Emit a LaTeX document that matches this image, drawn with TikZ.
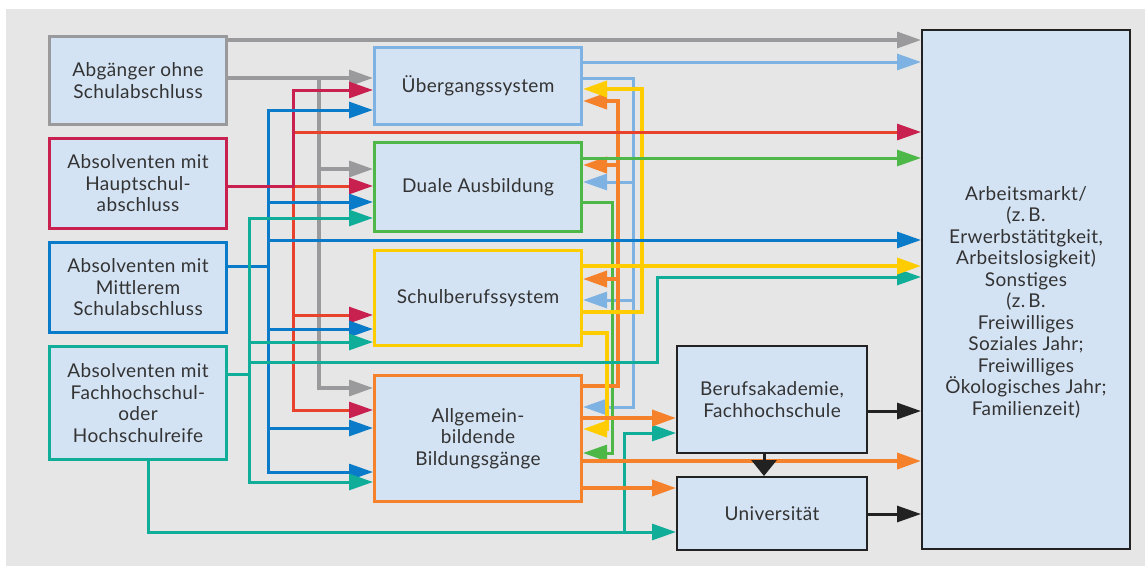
\documentclass[tikz,border=0pt]{standalone}
\usepackage{fontspec}
\setmainfont{Lato}[LetterSpace=2]
\usetikzlibrary{arrows.meta}
\definecolor{bgc}{HTML}{E6E6E6}
\definecolor{boxc}{HTML}{D4E3F4}
\definecolor{cgray}{HTML}{9A9A9C}
\definecolor{ccrim}{HTML}{C8204F}
\definecolor{cred}{HTML}{E8412C}
\definecolor{cblue}{HTML}{0A7BC8}
\definecolor{cteal}{HTML}{10AD98}
\definecolor{clb}{HTML}{7EB2E2}
\definecolor{cgreen}{HTML}{4DB848}
\definecolor{cyel}{HTML}{FFCC00}
\definecolor{corg}{HTML}{F5822A}
\definecolor{cblk}{HTML}{222222}
\definecolor{ctext}{HTML}{333333}
\begin{document}
\begin{tikzpicture}[x=1pt,y=-1pt,
  txt/.style={text=ctext, align=center, font=\fontsize{19}{21.5}\selectfont},
  box/.style={txt, draw, fill=boxc, line width=3pt, inner sep=0pt},
  bbox/.style={box, draw=cblk, line width=2pt},
  conn/.style={line width=3pt, -{Triangle[length=24pt,width=16pt]}},
  thick4/.style={line width=3.8pt},
  crimtip/.style={-{Triangle[length=24pt,width=16pt,color=ccrim]}},
  plain/.style={line width=3pt}
]
\useasboundingbox (0,0) rectangle (1145,566);
\fill[white] (0,0) rectangle (1145,566);
\fill[bgc] (6,9) rectangle (1145,566);

% source boxes
\node[box, draw=cgray, minimum width=177pt, minimum height=88pt] (abg) at (138,80.5) {Abgänger ohne\\Schulabschluss};
\node[box, draw=ccrim, minimum width=177pt, minimum height=90pt] (haupt) at (138,183.5) {Absolventen mit\\Hauptschul-\\abschluss};
\node[box, draw=cblue, minimum width=177pt, minimum height=90pt] (mittl) at (138,287.5) {Absolventen mit\\Mittlerem\\Schulabschluss};
\node[box, draw=cteal, minimum width=177pt, minimum height=113pt] (fach) at (138,403) {Absolventen mit\\Fachhochschul-\\oder\\Hochschulreife};

% middle boxes
\node[box, draw=clb, minimum width=207pt, minimum height=77pt] (ueber) at (478,86) {Übergangssystem};
\node[box, draw=cgreen, minimum width=207pt, minimum height=89pt] (duale) at (478,187) {Duale Ausbildung};
\node[box, draw=cyel, minimum width=207pt, minimum height=95pt] (schul) at (478,298) {Schulberufssystem};
\node[box, draw=corg, minimum width=207pt, minimum height=126pt] (allg) at (478,438.5) {Allgemein-\\bildende\\Bildungsgänge};

% right boxes
\node[bbox, minimum width=190pt, minimum height=107pt] (beruf) at (772,399.5) {Berufsakademie,\\Fachhochschule};
\node[bbox, minimum width=190pt, minimum height=73pt] (uni) at (772,513.5) {Universität};
\node[bbox, minimum width=208pt, minimum height=519pt] (arbeit) at (1026,289.5) {};
\node[txt] (arbtext) at (1026,302) {Arbeitsmarkt/\\(z.\,B.\\Erwerbstätitgkeit,\\Arbeitslosigkeit)\\Sonstiges\\(z.\,B.\\Freiwilliges\\Soziales Jahr;\\Freiwilliges\\Ökologisches Jahr;\\Familienzeit)};

% ---- middle bundle ----
\draw[conn, clb] (ueber.east|-0,78) -| (633,182) -- (duale.east|-0,182);
\draw[conn, clb] (ueber.east|-0,78) -| (633,300) -- (schul.east|-0,300);
\draw[conn, clb] (ueber.east|-0,78) -| (633,407) -- (allg.east|-0,407);
\draw[conn, cgreen] (duale.east|-0,202) -| (612,453) -- (allg.east|-0,453);
\draw[conn, corg, thick4] (allg.east|-0,386) -| (618,101) -- (ueber.east|-0,101);
\draw[conn, corg, thick4] (allg.east|-0,386) -| (618,165) -- (duale.east|-0,165);
\draw[conn, corg, thick4] (allg.east|-0,386) -| (618,279) -- (schul.east|-0,279);
\draw[conn, cyel, thick4] (schul.east|-0,312) -| (642,89) -- (ueber.east|-0,89);
\draw[conn, cyel, thick4] (schul.east|-0,333) -| (607,429) -- (allg.east|-0,429);

% ---- gray ----
\draw[conn, cgray, line width=3.3pt] (abg.east|-0,40) -- (arbeit.west|-0,40);
\draw[conn, cgray, line width=3.3pt] (abg.east|-0,78) -- (ueber.west|-0,78);
\draw[conn, cgray, line width=3.3pt] (abg.east|-0,78) -| (319,169) -- (duale.west|-0,169);
\draw[conn, cgray, line width=3.3pt] (abg.east|-0,78) -| (319,388) -- (allg.west|-0,388);

% ---- red / crimson ----
\draw[conn, cred, crimtip] (haupt.east|-0,186) -| (293,132) -- (arbeit.west|-0,132);
\draw[conn, cred, crimtip] (haupt.east|-0,186) -- (duale.west|-0,186);
\draw[conn, cred, crimtip] (haupt.east|-0,186) -| (293,315) -- (schul.west|-0,315);
\draw[conn, cred, crimtip] (haupt.east|-0,186) -| (293,410) -- (allg.west|-0,410);
\draw[conn, ccrim] (haupt.east|-0,186) -| (293,90) -- (ueber.west|-0,90);

% ---- blue ----
\draw[conn, cblue] (mittl.east|-0,266) -| (268,110) -- (ueber.west|-0,110);
\draw[conn, cblue] (mittl.east|-0,266) -| (268,202) -- (duale.west|-0,202);
\draw[conn, cblue] (mittl.east|-0,266) -| (268,240) -- (arbeit.west|-0,240);
\draw[conn, cblue] (mittl.east|-0,266) -| (268,329) -- (schul.west|-0,329);
\draw[conn, cblue] (mittl.east|-0,266) -| (268,428) -- (allg.west|-0,428);
\draw[conn, cblue] (mittl.east|-0,266) -| (268,472) -- (allg.west|-0,472);
\draw[plain, ccrim] (haupt.east|-0,186) -- (293,186);

% ---- teal ----
\draw[conn, cteal] (fach.east|-0,374) -| (249,218) -- (duale.west|-0,218);
\draw[conn, cteal] (fach.east|-0,374) -| (249,342) -- (schul.west|-0,342);
\draw[conn, cteal] (fach.east|-0,374) -| (249,482) -- (allg.west|-0,482);
\draw[conn, cteal] (fach.east|-0,374) -| (249,362) -- (657,362) |- (arbeit.west|-0,277);
\draw[conn, cteal] (fach.south-|148,0) |- (uni.west|-0,532);
\draw[conn, cteal] (fach.south-|148,0) |- (624,532) |- (beruf.west|-0,433);

% ---- middle boxes to Arbeitsmarkt ----
\draw[conn, clb] (ueber.east|-0,62) -- (arbeit.west|-0,62);
\draw[conn, cgreen] (duale.east|-0,158) -- (arbeit.west|-0,158);
\draw[conn, cyel, thick4] (schul.east|-0,266) -- (arbeit.west|-0,266);

% ---- orange right ----
\draw[conn, corg, thick4] (allg.east|-0,418) -- (beruf.west|-0,418);
\draw[conn, corg, thick4] (allg.east|-0,461) -- (arbeit.west|-0,461);
\draw[conn, corg, thick4] (allg.east|-0,488) -- (uni.west|-0,488);

% ---- black ----
\draw[conn, cblk] (beruf.east|-0,411) -- (arbeit.west|-0,411);
\draw[conn, cblk] (uni.east|-0,514) -- (arbeit.west|-0,514);
\draw[cblk, line width=3pt, -{Triangle[length=16pt,width=25pt]}] (beruf.south-|764,0) -- (uni.north-|764,0);
\end{tikzpicture}
\end{document}
